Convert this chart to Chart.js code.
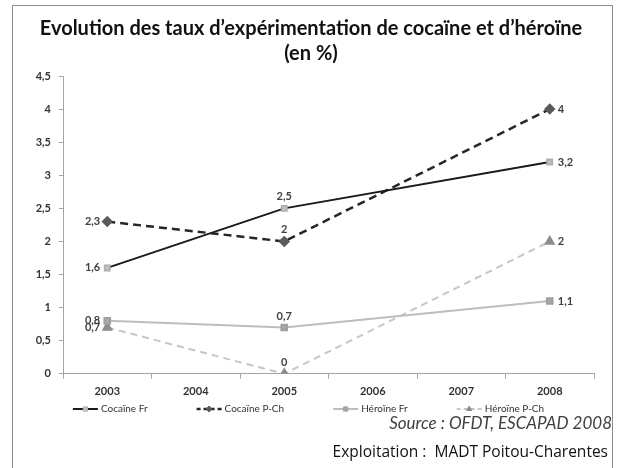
<!DOCTYPE html>
<html>
<head>
<meta charset="utf-8">
<script src="https://cdn.jsdelivr.net/npm/chart.js@4.4.0/dist/chart.umd.min.js"></script>
<style>
  body { margin: 0; background: #fff; width: 617px; height: 468px; overflow: hidden; position: relative; }
  #frame { position: absolute; left: 12px; top: 5px; width: 599px; height: 480px; border: 1px solid #8c8c8c; }
  #wrap { position: absolute; left: 0; top: 0; width: 617px; height: 425px; }
  .note { position: absolute; white-space: nowrap; }
  #source { top: 412px; right: 5px; font: italic 17px Lato; color: #404040; }
  #exploit { top: 440px; right: 9px; font: 15.5px "Open Sans"; color: #111; }
</style>
</head>
<body>
<div id="frame"></div>
<div id="wrap"><canvas id="evo"></canvas></div>
<div class="note" id="source">Source : OFDT, ESCAPAD 2008</div>
<div class="note" id="exploit">Exploitation :&nbsp; MADT Poitou-Charentes</div>
<script>
var years = ["2003", "2004", "2005", "2006", "2007", "2008"];
var cocaineFr = [1.6, null, 2.5, null, null, 3.2];
var cocainePCh = [2.3, null, 2, null, null, 4];
var heroineFr = [0.8, null, 0.7, null, null, 1.1];
var heroinePCh = [0.7, null, 0, null, null, 2];
var seriesNames = ["Cocaïne Fr", "Cocaïne P-Ch", "Héroïne Fr", "Héroïne P-Ch"];

// labels: first point on the left, middle above, last on the right
var valueLabels = {
  id: "valueLabels",
  afterDatasetsDraw: function(chart) {
    var ctx = chart.ctx;
    ctx.save();
    ctx.font = "bold 11px Lato";
    ctx.fillStyle = "#404040";
    chart.data.datasets.forEach(function(ds, i) {
      var meta = chart.getDatasetMeta(i);
      var idx = [];
      ds.data.forEach(function(v, j) { if (v !== null) idx.push(j); });
      idx.forEach(function(j, k) {
        var pt = meta.data[j];
        var txt = String(ds.data[j]).replace(".", ",");
        if (k === 0) {
          ctx.textAlign = "right"; ctx.textBaseline = "middle";
          ctx.fillText(txt, pt.x - 7, pt.y);
        } else if (k === idx.length - 1) {
          ctx.textAlign = "left"; ctx.textBaseline = "middle";
          ctx.fillText(txt, pt.x + 8, pt.y);
        } else {
          ctx.textAlign = "center"; ctx.textBaseline = "bottom";
          ctx.fillText(txt, pt.x, pt.y - 6);
        }
      });
    });
    ctx.restore();
  }
};

// excel style legend: short line with the marker on it, one row under the axis
var lineLegend = {
  id: "lineLegend",
  afterDraw: function(chart) {
    var ctx = chart.ctx;
    var sets = chart.data.datasets;
    var lineW = 25, gap = 3, space = 49;
    ctx.save();
    ctx.font = "10px Lato";
    var widths = sets.map(function(ds) { return lineW + gap + ctx.measureText(ds.label).width; });
    var total = widths.reduce(function(a, b) { return a + b; }, 0) + space * (sets.length - 1);
    var x = chart.width / 2 - total / 2;
    var y = chart.scales.x.bottom + 5;
    sets.forEach(function(ds, i) {
      ctx.strokeStyle = ds.borderColor;
      ctx.lineWidth = ds.borderWidth;
      ctx.setLineDash(ds.borderDash ? [4, 3] : []);
      ctx.beginPath();
      ctx.moveTo(x, y);
      ctx.lineTo(x + lineW, y);
      ctx.stroke();
      ctx.setLineDash([]);
      ctx.fillStyle = ds.pointBackgroundColor;
      ctx.strokeStyle = ds.pointBorderColor;
      ctx.lineWidth = 1;
      if (Chart.helpers) {
        Chart.helpers.drawPoint(ctx, {pointStyle: ds.pointStyle, radius: 3, rotation: 0, borderWidth: 1}, x + lineW / 2, y);
      }
      ctx.fillStyle = "#333";
      ctx.textAlign = "left";
      ctx.textBaseline = "middle";
      ctx.fillText(ds.label, x + lineW + gap, y);
      x += widths[i] + space;
    });
    ctx.restore();
  }
};

var chart = new Chart(document.getElementById("evo"), {
  type: "line",
  data: {
    labels: years,
    datasets: [{
      label: seriesNames[0],
      data: cocaineFr,
      borderColor: "#1a1a1a",
      borderWidth: 2,
      pointStyle: "rect",
      pointRadius: 3.5,
      pointBackgroundColor: "#c4c4c4",
      pointBorderColor: "#b0b0b0"
    }, {
      label: seriesNames[1],
      data: cocainePCh,
      borderColor: "#262626",
      borderWidth: 2.5,
      borderDash: [8, 5],
      pointStyle: "rectRot",
      pointRadius: 4,
      pointBackgroundColor: "#5a5a5a",
      pointBorderColor: "#5a5a5a"
    }, {
      label: seriesNames[2],
      data: heroineFr,
      borderColor: "#bdbdbd",
      borderWidth: 2,
      pointStyle: "rect",
      pointRadius: 4,
      pointBackgroundColor: "#a8a8a8",
      pointBorderColor: "#a0a0a0"
    }, {
      label: seriesNames[3],
      data: heroinePCh,
      borderColor: "#c6c6c6",
      borderWidth: 2,
      borderDash: [7, 5],
      pointStyle: "triangle",
      pointRadius: 4.5,
      pointBackgroundColor: "#8c8c8c",
      pointBorderColor: "#8c8c8c"
    }]
  },
  options: {
    responsive: true,
    maintainAspectRatio: false,
    animation: false,
    spanGaps: true,
    layout: {padding: {left: 28, right: 23, top: 0, bottom: 21}},
    plugins: {
      title: {
        display: true,
        text: ["Evolution des taux d’expérimentation de cocaïne et d’héroïne", "(en %)"],
        font: {family: "Lato", size: 20, weight: "bold", lineHeight: 1.25},
        color: "#111",
        padding: {top: 16, bottom: 10}
      },
      legend: {display: false},
      tooltip: {enabled: false}
    },
    scales: {
      x: {
        offset: true,
        grid: {offset: true, drawOnChartArea: false, tickLength: 5, color: "#a6a6a6"},
        border: {color: "#a6a6a6"},
        ticks: {color: "#333", padding: 6, font: {family: "Lato", size: 11, weight: "bold"}}
      },
      y: {
        min: 0,
        max: 4.5,
        afterFit: function(scale) { scale.width = 35; },
        grid: {drawOnChartArea: false, tickLength: 4, color: "#a6a6a6"},
        border: {color: "#a6a6a6"},
        ticks: {
          stepSize: 0.5,
          color: "#333",
          padding: 8,
          font: {family: "Lato", size: 11, weight: "bold"},
          callback: function(v) { return String(v).replace(".", ","); }
        }
      }
    }
  },
  plugins: [valueLabels, lineLegend]
});
</script>
</body>
</html>
